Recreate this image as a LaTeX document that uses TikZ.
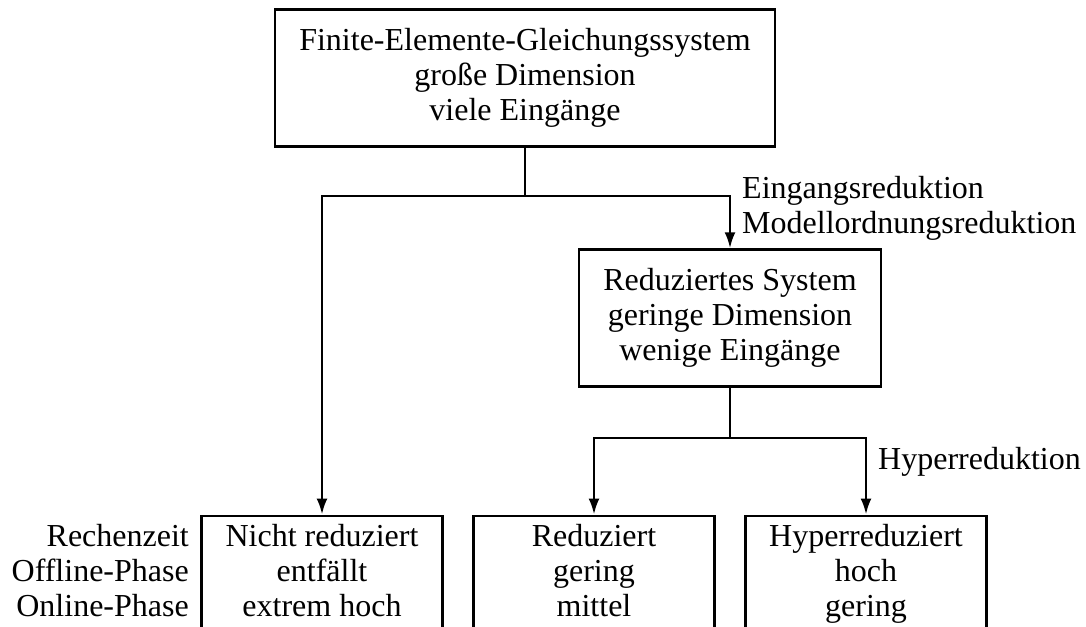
\documentclass[tikz,border=0pt]{standalone}
\usepackage{fontspec}
\setmainfont{Liberation Serif}
\usetikzlibrary{arrows.meta,positioning}
\tikzset{
    every node/.style={font=\fontsize{32}{35}\selectfont},
    sysbox/.style={draw,line width=2.5pt,align=center,inner sep=0pt,minimum height=137pt},
    cutbox/.style={draw,line width=2.5pt,align=center,anchor=north,inner xsep=0pt,inner ysep=9pt,
        text depth=60pt,minimum width=241pt},
    lbl/.style={inner sep=0pt},
    line/.style={line width=2.5pt},
    flow/.style={line width=2.5pt,-{Latex[length=16pt,width=11pt]}}
}
\begin{document}
\begin{tikzpicture}[x=1pt,y=-1pt]
\clip (0,0) rectangle (1086,626);
% systems
\node[sysbox,minimum width=500pt] (fem) at (525,78) {Finite-Elemente-Gleichungssystem\\große Dimension\\viele Eingänge};
\node[sysbox,minimum width=302pt] (red) at (730,318) {Reduziertes System\\geringe Dimension\\wenige Eingänge};
% the three variants (open at the lower edge)
\node[cutbox] (nicht) at (322,514.5) {Nicht reduziert\\entfällt\\extrem hoch};
\node[cutbox] (redz) at (594,514.5) {Reduziert\\gering\\mittel};
\node[cutbox] (hyp) at (866,514.5) {Hyperreduziert\\hoch\\gering};
\node[lbl,align=right,anchor=east] (zeit) at (189,571) {Rechenzeit\\Offline-Phase\\Online-Phase};
% connectors
\coordinate (j1) at (525,196);
\coordinate (j2) at (730,438);
\draw[line] (fem.south) -- (j1);
\draw[flow] (j1) -| (nicht.north);
\draw[flow] (j1) -| (red.north);
\draw[line] (red.south) -- (j2);
\draw[flow] (j2) -| (redz.north);
\draw[flow] (j2) -| (hyp.north);
% labels
\node[lbl,align=left,anchor=west] (mor) at (742,208) {Eingangsreduktion\\Modellordnungsreduktion};
\node[lbl,anchor=west] (hr) at (878,462) {Hyperreduktion};
\end{tikzpicture}
\end{document}
